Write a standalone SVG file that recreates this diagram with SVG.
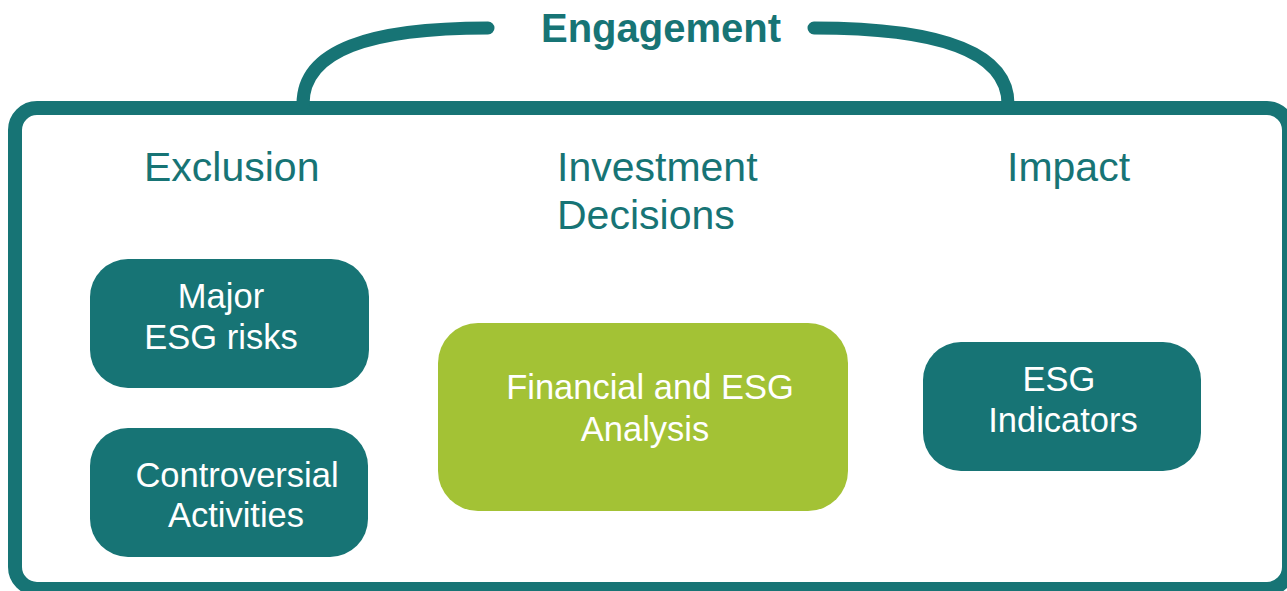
<svg xmlns="http://www.w3.org/2000/svg" width="1287" height="591" viewBox="0 0 1287 591">
<style>
.frame{fill:none;stroke:#177475;stroke-width:14}
.arc{fill:none;stroke:#177475;stroke-width:13;stroke-linecap:round}
.tbox{fill:#177475}
.gbox{fill:#a3c235}
.head{font-family:"Liberation Sans",Arial,sans-serif;font-size:41px;fill:#177475}
.eng{font-family:"Liberation Sans",Arial,sans-serif;font-size:40px;font-weight:bold;fill:#177475;text-anchor:middle}
.lbl{font-family:"Liberation Sans",Arial,sans-serif;font-size:34.5px;fill:#ffffff;text-anchor:middle}
</style>
<rect width="1287" height="591" fill="#ffffff"/>
<g id="frame">
<rect class="frame" x="15" y="108" width="1274" height="481" rx="22"/>
</g>
<g id="connectors">
<path class="arc" d="M 303 104 C 303 50 370 28 488 28"/>
<path class="arc" d="M 814 28 C 935 28 1008 50 1008 104"/>
</g>
<g id="engagement">
<text class="eng" x="661" y="42">Engagement</text>
</g>
<g id="headings">
<text class="head" x="144" y="181">Exclusion</text>
<text class="head" x="557" y="181">Investment</text>
<text class="head" x="557" y="229">Decisions</text>
<text class="head" x="1007" y="181">Impact</text>
</g>
<g id="major-esg-risks">
<rect class="tbox" x="90" y="259" width="279" height="129" rx="38"/>
<text class="lbl" x="221" y="308">Major</text>
<text class="lbl" x="221" y="349">ESG risks</text>
</g>
<g id="controversial-activities">
<rect class="tbox" x="90" y="428" width="278" height="129" rx="38"/>
<text class="lbl" x="237" y="487">Controversial</text>
<text class="lbl" x="236" y="527">Activities</text>
</g>
<g id="financial-esg-analysis">
<rect class="gbox" x="438" y="323" width="410" height="188" rx="40"/>
<text class="lbl" x="650" y="399">Financial and ESG</text>
<text class="lbl" x="645" y="441">Analysis</text>
</g>
<g id="esg-indicators">
<rect class="tbox" x="923" y="342" width="278" height="129" rx="38"/>
<text class="lbl" x="1059" y="391">ESG</text>
<text class="lbl" x="1063" y="432">Indicators</text>
</g>
</svg>
